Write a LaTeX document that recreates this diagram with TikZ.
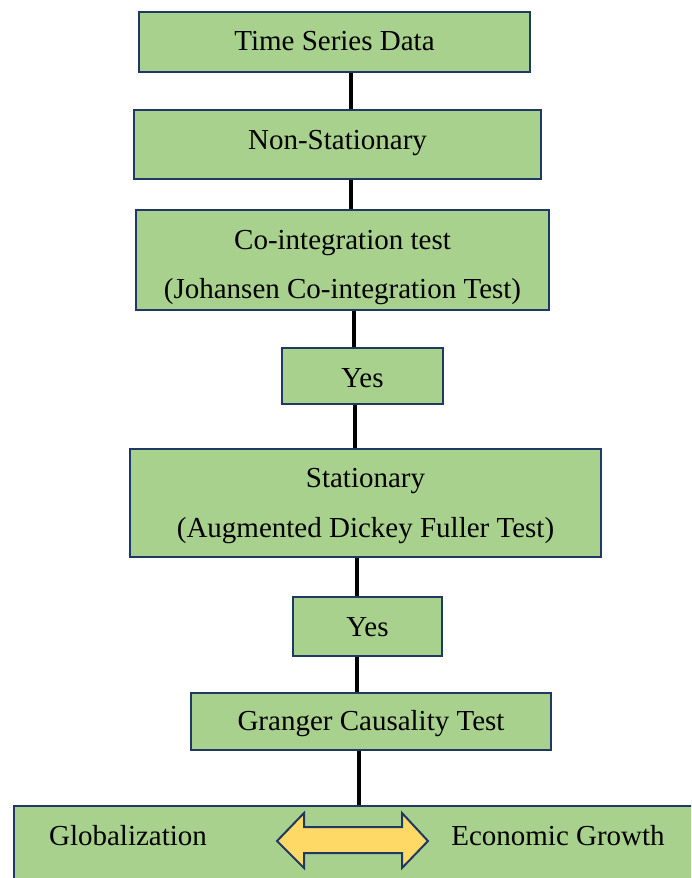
\documentclass[tikz,border=0pt]{standalone}
\usepackage{fontspec}
\setmainfont{Liberation Serif}
\definecolor{boxfill}{HTML}{A9D18E}
\definecolor{boxline}{HTML}{1F3864}
\definecolor{arrowfill}{HTML}{FFD966}
\begin{document}
\begin{tikzpicture}[x=1pt,y=-1pt,
  box/.style={draw=boxline, line width=2.2pt, fill=boxfill, inner sep=0pt},
  txt/.style={font=\fontsize{29}{35}\selectfont, anchor=base, inner sep=0pt},
  conn/.style={line width=3.2pt, black}]
\useasboundingbox (0,0) rectangle (691,878);
\clip (0,0) rectangle (691,878);
% connector x positions
\coordinate (c1) at (351,0);
\coordinate (c2) at (351,0);
\coordinate (c3) at (354,0);
\coordinate (c4) at (355,0);
\coordinate (c5) at (357,0);
\coordinate (c6) at (357,0);
\coordinate (c7) at (359,0);
% boxes
\path
  (334.5,42) node[box, minimum width=391, minimum height=60] (b1) {}
  (337.5,144.5) node[box, minimum width=407, minimum height=69] (b2) {}
  (342.5,260) node[box, minimum width=413, minimum height=100] (b3) {}
  (362.5,376) node[box, minimum width=161, minimum height=56] (b4) {}
  (365.5,503) node[box, minimum width=471, minimum height=108] (b5) {}
  (367.5,626.5) node[box, minimum width=149, minimum height=59] (b6) {}
  (371,721.5) node[box, minimum width=360, minimum height=57] (b7) {}
  (367,853) node[box, minimum width=706, minimum height=94] (b8) {};
% connectors
\draw[conn] (b1.south -| c1) -- (b2.north -| c1);
\draw[conn] (b2.south -| c2) -- (b3.north -| c2);
\draw[conn] (b3.south -| c3) -- (b4.north -| c3);
\draw[conn] (b4.south -| c4) -- (b5.north -| c4);
\draw[conn] (b5.south -| c5) -- (b6.north -| c5);
\draw[conn] (b6.south -| c6) -- (b7.north -| c6);
\draw[conn] (b7.south -| c7) -- (b8.north -| c7);
% texts
\node[txt] (t1) at (334.5,50) {Time Series Data};
\node[txt] (t2) at (337.5,149) {Non-Stationary};
\node[txt] (t3a) at (342.5,249) {Co-integration test};
\node[txt] (t3b) at (342.5,298) {(Johansen Co-integration Test)};
\node[txt] (t4) at (362.5,387) {Yes};
\node[txt] (t5a) at (365.5,487) {Stationary};
\node[txt] (t5b) at (365.5,537) {(Augmented Dickey Fuller Test)};
\node[txt] (t6) at (367.5,636) {Yes};
\node[txt] (t7) at (371,730) {Granger Causality Test};
\node[txt] (g) at (128,845) {Globalization};
\node[txt] (e) at (558,845) {Economic Growth};
% double arrow
\draw[draw=boxline, line width=2pt, fill=arrowfill, line join=miter]
  (277,841) -- (304,813) -- (304,827) -- (402,827) -- (402,813) -- (428,841)
  -- (402,868) -- (402,853) -- (304,853) -- (304,868) -- cycle;
\end{tikzpicture}
\end{document}
